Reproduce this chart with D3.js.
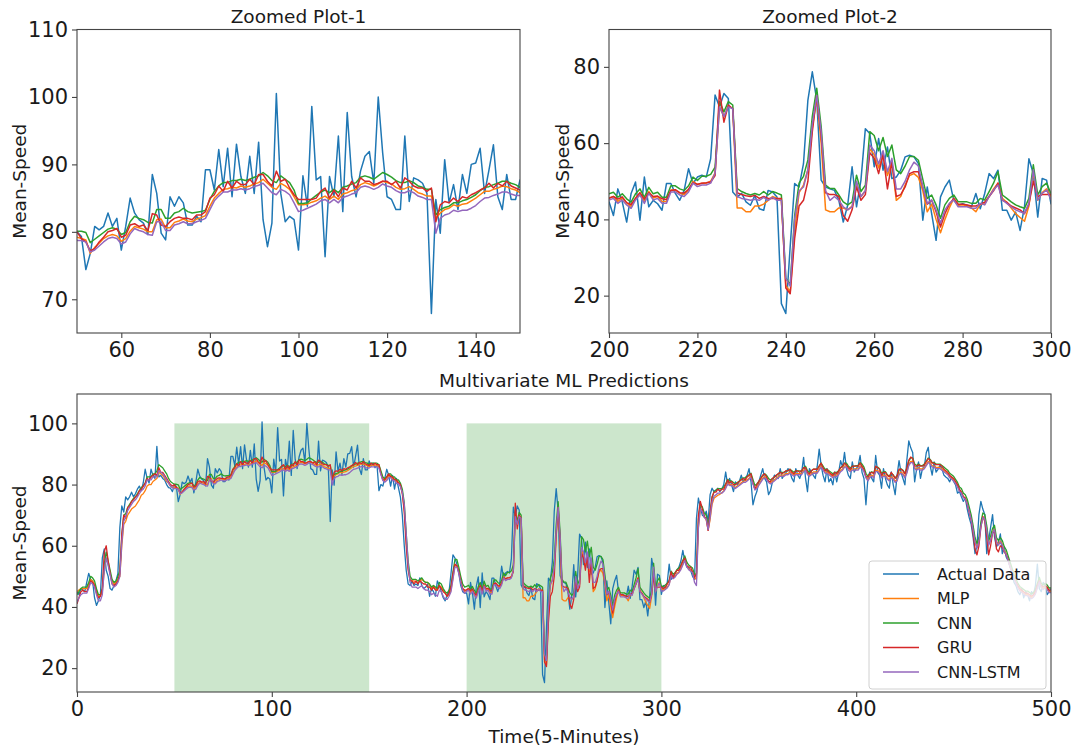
<!DOCTYPE html>
<html>
<head>
<meta charset="utf-8">
<script src="https://cdn.jsdelivr.net/npm/d3@7"></script>
<style>
  body { margin: 0; background: #fff; }
  svg text { font-family: "DejaVu Sans", sans-serif; fill: #1a1a1a; }
</style>
</head>
<body>
<svg id="chart" width="1076" height="749"></svg>
<script>
// Mean speed per 5-minute step, observed values
const actual = [
  45,44,46,45.5,45,48,51,49,48.5,43,40.5,42,44,56,59,52,50,46,45.5,47,48.5,51,66,73,71,
  76,75,76,77.5,76,77,78.5,79.5,78,80.5,85,82,80.5,85,83,82,92.5,82.5,83,82,81.5,80,79,78.8,77.7,
  80,79.3,74.4,76.8,80.8,80.3,80.8,82.8,80.8,82,77.3,80.8,85,82.8,81.8,81.3,79.6,88.5,85.7,79.8,78.8,85.2,83.8,85.2,84.3,
  81,81,82.3,81.5,89.2,89.2,86.2,92.2,86.7,92.4,85.2,93,88.2,85.7,91.2,85.7,93.3,81.8,77.8,81.3,100.5,85.7,81.5,82.3,81.8,
  77.3,88.3,83.8,98.6,87.7,88.2,76.3,88.2,85.2,94.2,83,97.7,88.2,85.2,89,91.2,91.9,87.2,100,91.7,85.2,84.8,83.3,83.3,94.2,
  84.5,88,87.7,87.2,85.7,67.9,84.8,79.8,90.7,84.3,87,83.3,88.5,85.7,90,90.2,92.4,85.7,89.2,92.9,85.2,83.3,88.5,84.8,84.8,
  87.7,86,87,85.5,86.5,78,80,79.5,82,85,83,79.5,83,78.5,82,79,76,70,60,52,47.5,47,48.5,47,47.5,
  47,49.5,47,46,46.5,47.5,43.5,46,45,43.5,48.5,47,45,43,42,44,45,51,57,56,54,51,47,45,44.5,
  44.6,41,48,44.6,39.3,46.8,49.8,39.8,51.1,43.3,45,44.1,42.4,49.4,49.4,46.8,45,47.6,53.3,49.4,51.1,51.6,51.1,55.9,72.6,
  69.5,73,71.7,47.2,45.9,46.8,44.6,43.7,46.3,42.8,42.4,47.6,47.2,45.9,17.9,15.3,33,49.4,48.5,54.6,71.3,78.7,71.3,50.3,48.5,
  48,47.6,45,39.3,43.7,53.8,43.3,50.3,63.8,62.5,53.8,61.2,52.9,59,50.7,51.1,52.9,56.4,56.8,56.4,54.6,39.8,48.5,41.5,34.5,
  45.9,48.5,50.3,45,43.7,44.1,43.7,43.3,46.8,42.8,46.8,52,50.7,52.9,42.4,42.4,39.8,41.9,37.1,43.3,55.9,52,40.6,50.7,50.3,
  44.1,47,46,48,54,49,50,51,52,53,55,58.5,55,53,53,52,50,49,69,75.6,72.4,70,69.5,71.3,68.1,
  76.7,78.8,77.7,78,78.8,77.7,78.5,79.9,84.1,79.9,82,80,77.7,80.9,79.9,81,83.1,80.9,82,83,85.2,80.9,73.4,76,77.7,
  80.9,83.1,85.2,82,80.9,76.7,78,80.9,83.1,82.5,82,85.2,82,83.1,84,85.2,84.1,82,80.9,85.2,83.1,82,84,88.9,82,
  77.7,85.2,84.1,83,82,86,91.6,86.3,83,80.9,85.2,80.9,82,79.9,84.1,80.9,84,87.8,85.7,90.5,85.2,83,82,87.4,84.1,
  85.2,86,89.5,84,82,73.4,82,84.1,82,80.9,89.5,84,83.1,78.8,85.2,82,79.9,78.8,84.1,80,76.7,83.1,87.8,84,82,
  79.9,88,94.3,92,90.5,80.9,85,87.4,82,85.2,86,90.5,92.2,86,83.1,87.4,84.1,85,86.3,85.2,83.1,82.5,82,80.9,82.5,
  81,79.9,77.2,77.7,76,74.5,75.6,72,69.2,67,62.8,57.4,60,70.2,74.5,72,70.2,57.4,61.8,66,70.2,62.8,59.6,61,63.9,
  57.4,59.6,56.3,55,53,51,48,47,45,44,46,43,45,44,42,45,44,47,54,46,45,48,47,44,45,
  46
];

// Predicted mean speed, MLP model
const mlp = [
  45,45.5,46,46,46,46,47.5,49,48.5,47.5,45.5,43.5,43.5,45,52,56,54,51,48.5,47.5,48,49,50,60,67,
  68,70,71,72,72.5,73,74,75,76.5,77,78,79.5,80,80,81,81.5,82,84,83.5,83,82,81,80.5,79.5,79,
  79.2,79,78.8,76.8,77.7,78.3,79,79.4,79.6,79.4,78.6,79,80.1,80.8,80.6,80.4,80,80,81.8,81.9,80.6,80.6,81.4,81.6,81.9,
  81.6,81.5,81.9,82.1,82.4,83.8,85,85.7,86.3,86.4,86.6,86.5,86.8,86.6,86.8,87.1,87.3,87.8,87.2,86.6,86.3,87.2,86.8,86.3,85.2,
  84,84,84.1,84.4,84.6,85,85.3,84.8,85.3,84.8,85.6,85.8,86.1,86.3,87,87.3,87.1,86.8,87.1,87.5,87.3,87.1,86.6,86.3,86.4,
  86.7,86.3,85.8,85.6,85.3,85.3,82,82.8,83.3,83.5,84,83.8,84.1,84.2,84.6,85,85.5,86,86,86.3,86.5,86.8,86.7,86.4,86.2,
  85.8,86.3,86.4,86.4,86.2,85.8,84,82.2,81.4,81.8,82.8,82.9,82,81.8,81,80.8,79.8,77.5,72,62,53,49,48.5,48.5,48.2,
  48,48.5,49,48.5,48,48,47,46,47,46,45.5,47,46.5,45.5,44.5,43.5,44,45.5,49.5,53.5,53.5,52,48.5,46,45,
  45.6,46,44.7,45.6,44.3,43.4,45.6,46.9,44.7,47.3,45.6,46,44.7,44.7,47.7,47.7,46.9,46.5,47.7,50,49.1,49.5,49.5,50,52.2,
  69.5,67,69.8,69,43,43,42,42,43.5,43.5,44,45,46,45.5,45,22.7,21,37,47,49,53,64,72,60,42.5,
  42,42,43,43,42.5,43.5,49,46,47.5,58.5,57,53.5,57,51.5,55,45,46,49,51.5,52,51,47.5,42,44,40,
  36.5,40,43,45.5,43.8,43.8,43.5,43,42,44,44,46,48,49.5,45.5,44.5,43,41.5,40.5,39.5,43.5,52.5,45,47,48,
  46,45.5,46,46.5,47.5,50.5,49.5,50,51,51.5,52.5,54,55.5,53.5,52.5,52,51.5,49.5,49,66,72,71.5,69.5,68.5,65,
  68.5,73.5,75.5,76,76.5,76.8,77.3,78,79,80.5,80,80,79.5,79,79.6,80.1,80.6,81.1,81.2,81.6,82.1,82.6,80.5,78.6,79.1,
  80.1,81.1,82.1,82.6,82.1,81.1,80.6,81.1,81.6,82.1,82.6,83.1,83.1,83.1,83.6,83.6,84.1,83.6,83.1,83.6,83.6,83.6,83.6,84.6,85.1,
  83.6,83.1,83.6,84.1,84.1,84.1,85.1,86.1,85.1,84.1,84.1,83.6,83.1,82.6,83.1,83.1,83.6,84.6,85.1,86.1,86.1,85.1,84.6,85.1,85.1,
  85.1,85.1,86.1,85.6,84.6,82.6,81.6,82.6,83.1,82.6,84.6,84.6,84.1,82.6,83.1,83.1,82.1,81.6,82.6,82.1,81.1,81.6,83.6,84.1,83.6,
  82.6,84.1,86.6,87.6,87.6,85.6,85.1,85.6,85.1,85.1,85.6,86.6,87.6,87.1,86.1,86.1,85.6,85.6,85.6,85.1,84.6,84.1,83.6,82.6,82.1,
  81.6,80.6,79.6,78.1,77.6,76.1,75.6,74.1,71.6,69,65.5,61.5,59.5,61.5,66.5,69.5,69,65.5,60.5,62,64.5,65.5,61.5,60.5,61.5,
  60.5,58.5,57.5,55.5,53.5,51.5,49.5,48,46.5,45.5,45,44.5,44,44,43.5,43,43.5,44.5,46.5,48.5,46.5,46,46.5,46,45,
  45
];

// Predicted mean speed, CNN model
const cnn = [
  44,45,46,46.5,46.5,46.5,48,50,49.5,48.5,46,44,44,46,54,58,55,52,49,48,48.5,50,52,63,70,
  70.5,72.5,73.5,74.5,75.5,76,77,78,79,79.5,80.5,82.5,82.5,82.5,83.5,83.5,84.5,86.5,86,85.5,84.5,83.5,82,81,80.5,
  80.1,80.1,79.9,78.4,78.9,79.4,79.9,80.4,80.6,80.4,79.6,79.9,81.5,82.3,82,81.8,81.4,81.3,83.3,83.3,82,82,82.8,83,83.5,
  83,82.8,82.9,83,83.2,84.8,86,86.8,87.3,87.3,87.6,87.6,87.8,87.6,87.8,88.1,88.3,88.8,88.3,87.6,87.3,88.3,87.8,87.3,86.2,
  84.2,84.2,84.3,84.9,85.4,85.9,86.2,85.8,86.3,85.8,86.6,86.8,87.1,87.3,88.1,88.3,88.1,87.8,88.3,88.8,88.5,88.1,87.6,87.3,87.3,
  87.6,87.3,86.8,86.6,86.3,86.3,82.5,83.3,83.6,83.8,84.3,84.3,84.6,84.8,85.1,85.5,86.1,86.6,86.7,87,87.2,87.5,87.5,87.2,87,
  86.6,87,87,87,87,86.5,84.5,82.5,82,82.5,83.5,83.5,82.5,82.5,81.5,81.5,80.5,78.5,74,64,55,50,49,49,49,
  48.5,49,49.5,48.5,48,48,47.5,46.5,47,46.5,46,48,47.5,46,45,44.5,45.5,47,51.5,55.5,55.5,53,50,47.5,46.5,
  46.7,47.1,45.8,46.7,45.4,44.5,46.7,48,45.8,48.4,46.7,47.1,45.8,45.8,48.8,48.8,48,47.6,48.8,51.1,50.2,51.3,51.3,51.8,53.7,
  70.9,68.2,70.9,70,48.1,47.3,46.8,46.4,46.8,46.4,47.3,46.4,47.3,46.9,46.4,24.6,22.9,41,49.5,51.3,55.6,67,74.4,64.4,49,
  48.1,48.1,46.4,44.6,43.8,44.6,51.6,47.3,49,63,62,58,61.5,56.5,59.5,53,52,54,56.5,56.5,55.5,50.5,45.5,46.4,43.8,
  40.3,43.8,45.5,46.4,44.6,44.6,44.6,44.2,44.2,45.5,45.1,47.3,49.5,52.5,46.4,45.5,44.6,43.8,43.3,42.9,45.5,54.3,46.4,48.6,49.5,
  46.7,46.7,47.2,47.7,48.7,51.7,50.7,51.2,52.2,52.7,53.7,55.2,56.7,54.7,53.7,53.2,52.7,50.7,50.7,68.7,73.7,72.7,70.7,70.2,66.7,
  70.7,75.7,77.7,78.2,78.7,78.7,78.7,79.2,80.2,81.7,81.2,81.2,80.7,80.2,80.7,81.2,81.7,82.2,82.2,82.7,83.2,83.7,81.7,79.7,80.2,
  81,82,83,83.5,83,82,81.5,82,82.5,83,83.5,84,84,84,84.5,84.5,85,84.5,84,84.5,84.5,84.5,84.5,85.5,86,
  84.5,84,84.5,85,85,85,86,87,86,85,85,84.5,84,83.5,84,84,84.5,85.5,86,87,87,86,85.5,86,86,
  86.2,86.2,87.2,86.7,85.7,83.7,82.7,83.7,84.2,83.7,85.7,85.7,85.2,83.7,84.2,84.2,83.2,82.7,83.7,83.2,82.2,82.7,84.7,85.2,84.7,
  83.7,85.2,87.7,88.7,88.7,86.7,86.2,86.7,86.2,86.2,86.7,87.7,88.7,88.2,87.2,87.2,86.7,86.7,86.7,86.2,85.7,85.2,84.7,83.7,83.2,
  82.7,81.7,80.7,79.2,78.7,77.2,76.7,75.2,72.7,70.2,66.7,62.7,60.7,62.7,67.7,70.7,70.2,66.7,61.7,63.2,65.7,66.7,62.7,61.7,62.7,
  61.7,59.7,58.7,56.7,54.7,52.7,50.7,49.2,47.7,46.7,46.2,45.7,45.2,45.2,44.7,44.2,44.7,45.7,47.7,49.7,47.7,47.2,47.7,47.2,46.2,
  46.2
];

// Predicted mean speed, GRU model
const gru = [
  41,43,45,45.5,45,45,46.5,48.5,48,47,44.5,43,43.5,46,58,60,55,51,47.5,47,47.5,48.5,51,64,70,
  69,72.5,73,74.5,75,76,76.5,78,78.5,79.5,80.5,82,81.5,82.5,83,83.5,83,85.5,84,84,83,82,81,80,79.5,
  80,79,78.5,77.2,77.5,78.5,79.2,80,80.2,80.5,79.2,79.5,81,81.2,80.8,81,80.2,82.7,82.5,81,80.8,81.5,82,82.2,82,
  82,81.8,82.5,82.5,83,85,85.5,86.8,86,87.5,86.5,87.5,87,87,87.8,87,88.5,88.5,87.5,86.8,89,87.5,87.8,86.5,85.5,
  84.8,84.8,84.8,84.8,85,86,86.5,85,86.2,85.2,86.5,86.2,87.5,86.5,88,87.5,87.5,87,87.2,87.5,87.5,87,87.5,86.5,88,
  87.5,86.8,86.5,86.5,86,86.5,81.5,84,84.5,84.3,85,84.5,85.2,85,85.5,85.8,86.2,86.5,87.2,86.5,87.2,86.8,87.5,86.8,86.5,
  86.2,87,86.5,87,86.5,86.5,83.5,81.5,81.5,82.5,83.5,82.5,82.5,81.5,81.5,80.5,80,77,71,60,52,48.5,48.5,47.5,48.5,
  47.5,48.5,48,47.5,47.5,46.5,46.5,45.5,46.5,45.5,45.5,47,46,45,44.5,43.5,44.5,46.5,51,54,53.5,51.5,48.5,46,45.5,
  45.5,46,45.3,45.9,44.4,43.9,45.5,47,45.3,47,46,46.1,45.4,45.2,47.6,47.8,47,46.9,47.9,49.6,49.2,49.5,49.6,49.8,51.5,
  73.9,65.5,70,69,47,46.5,46.2,46,46.3,45.5,46,45.5,45.5,45.5,45.5,22,20.5,35,43.5,45,50,63,72.5,62,47,
  46.5,46.5,46,41,39.5,42.5,48.5,45,46.5,57.5,56,52,57,48,55,46,46.5,48.5,52,52.5,52.5,48.5,44,45,42,
  38,41.5,44,45.5,44,44,43.8,43.5,43.5,44,44.5,46,47.5,49.5,45,44.5,43.5,43,42.5,41.5,44,50,46,46.5,46.5,
  46.5,46,46.5,47.5,48.5,51.5,49.5,51,52,52,53.5,55,56,53.5,53,53,51.5,49.5,51,70,74.5,72,69.5,69,65,
  71,76,77.5,77.5,78.5,78,78.5,78.5,80,81.5,80.5,81,80,80,80.5,81,81.5,82,81.5,82.5,83,83.5,80.5,78.5,80,
  81,82,83,83.5,82.5,81,81,82,82.5,83,83.5,84,83.5,84,84.5,84.5,85,84,83.5,84.5,84.5,84,84.5,85.5,85.5,
  84,83.5,84.5,85,85,85,86,87,85.5,84.5,85,84,83.5,83,84,83.5,84.5,85.5,86,87,86.5,85.5,85,86,86,
  86,86,87,86,85,82.5,82.5,83.5,84,83.5,86,85.5,85,83,84,84,83,82.5,84,83,82,83,85,85,84.5,
  83.5,85.5,88,89,88.5,86,86,86.5,86,86,86.5,87.5,88.5,88,87,87,86.5,86.5,86.5,86,85,84.5,84,83,82.5,
  82,81,80,78.5,77.5,76,75.5,73.5,71,68.5,64,59,57,60,66,69.5,68,63,57,60,64,65,59,58,60,
  59.5,58,57,55.5,53,51.5,49.5,48,47,46,45.5,45,44.5,44.5,44,43.5,44,45,47,48.5,47,46.5,47,46.5,45.5,
  45.5
];

// Predicted mean speed, CNN-LSTM model
const cnnLstm = [
  41.5,43,44,44.5,44.5,44.5,46,48,47.5,46.5,44,42,42,44,52,56,53.5,50.5,47.5,46.5,47,48,50,61,68,
  69.5,71.5,72.5,73.5,74.5,75,76,77,78,78.5,79.5,81.5,81.5,81.5,82.5,82.5,82.5,84.5,84,83.5,82.5,81.5,80.5,79.5,79,
  78.7,78.7,78.5,77,77.3,77.9,78.5,79,79.2,79,78.2,78.5,79.7,80.5,80.2,80,79.6,79.5,81.5,81.5,80.2,80.2,81,81.2,81.5,
  81.2,81.2,81.5,81.7,82,83.3,84.6,85.3,85.9,85.9,86.2,86.2,86.4,86.2,86.4,86.7,86.9,87.2,86.5,85.8,85.5,86.3,86,85.5,84.3,
  83,83.2,83.5,83.8,84.1,84.6,84.8,84.3,84.8,84.3,85.1,85.3,85.6,85.8,86.6,86.8,86.6,86.3,86.6,87.1,86.8,86.6,86.1,85.8,85.8,
  86.1,85.8,85.3,85.1,84.8,84.8,79.8,82,82.5,82.7,83.2,83,83.2,83.2,83.5,83.9,84.5,85,85.1,85.4,85.6,85.9,85.9,85.6,85.4,
  85.4,85.8,85.8,85.8,85.8,85.3,83.3,81.3,80.8,81.3,82.3,82.3,81.3,81.3,80.3,80.3,79.3,77.5,73.5,64,54,48,46.5,46.5,46.5,
  46,46.5,47,46,45.5,45.5,45,44,44.5,44,43.5,45.5,45,43.5,42.5,42.5,43.5,45,49,53,53,51,48,45.5,44.5,
  45.1,45.5,44.2,45.1,43.8,42.9,45.1,46.4,44.2,46.8,45.1,45.5,44.2,44.2,47.2,47.2,46.4,46,47.2,49.5,48.6,49,49,49.5,52.1,
  69.5,67,69.5,69,46,45.5,45.3,45,45.3,45,45.8,45,45.8,45,45,24.5,22.5,40,47.5,48.5,53,65,72.5,63,47.5,
  45,46,45,43.3,42.5,43.3,50,46,47.5,59.5,58,54.5,58,52.5,56,48,48,50,53,55,54,48.5,44.2,45.1,42.5,
  39,42.5,44.2,45.1,43.3,43.3,43.3,42.9,42.9,44.2,43.8,46,47.7,49,45.1,44.2,43.3,42.5,42,41.6,44.2,53,45.1,46.8,47.7,
  45.2,45.2,45.7,46.2,47.2,50.2,49.2,49.7,50.7,51.2,52.2,53.7,55.2,53.2,52.2,51.7,51.2,48,47,66,72,71.2,69.2,68.7,65.2,
  69.2,74.2,76.2,76.7,77.2,77.2,77.2,77.7,78.7,80.2,79.7,79.7,79.2,78.7,79.2,79.7,80.2,80.7,80.7,81.2,81.7,82.2,80.2,78.2,78.7,
  79.7,80.7,81.7,82.2,81.7,80.7,80.2,80.7,81.2,81.7,82.2,82.7,82.7,82.7,83.2,83.2,83.7,83.2,82.7,83.2,83.2,83.2,83.2,84.2,84.7,
  83.2,82.7,83.2,83.7,83.7,83.7,84.7,85.7,84.7,83.7,83.7,83.2,82.7,82.2,82.7,82.7,83.2,84.2,84.7,85.7,85.7,84.7,84.2,84.7,84.7,
  84.7,84.7,85.7,85.2,84.2,82.2,81.2,82.2,82.7,82.2,84.2,84.2,83.7,82.2,82.7,82.7,81.7,81.2,82.2,81.7,80.7,81.2,83.2,83.7,83.2,
  82.2,83.7,86.2,87.2,87.2,85.2,84.7,85.2,84.7,84.7,85.2,86.2,87.2,86.7,85.7,85.7,85.2,85.2,85.2,84.7,84.2,83.7,83.2,82.2,81.7,
  81.2,80.2,79.2,77.7,77.2,75.7,75.2,73.7,71.2,68.7,65.2,61.2,59.2,61.2,66.2,69.2,68.7,65.2,60.2,61.7,64.2,65.2,61.2,60.2,61.2,
  60.2,58.2,57.2,55.2,53.2,51.2,49.2,47.7,46.2,45.2,44.7,44.2,43.7,43.7,43.2,42.7,43.2,44.2,46.2,48.2,46.2,45.7,46.2,45.7,44.7,
  44.7
];

const seriesNames = ["Actual Data", "MLP", "CNN", "GRU", "CNN-LSTM"];
const seriesValues = [actual, mlp, cnn, gru, cnnLstm];
const seriesColors = ["#1f77b4", "#ff7f0e", "#2ca02c", "#d62728", "#9467bd"];

// Windows that the two upper panels enlarge
const zoomWindows = [[50, 150], [200, 300]];
const shadeTop = 100;

const ticksZoom1X = [60, 80, 100, 120, 140];
const ticksZoom1Y = [70, 80, 90, 100, 110];
const ticksZoom2X = [200, 220, 240, 260, 280, 300];
const ticksZoom2Y = [20, 40, 60, 80];
const ticksMainX = [0, 100, 200, 300, 400, 500];
const ticksMainY = [20, 40, 60, 80, 100];

const svg = d3.select("#chart");

const panels = [
  { id: "z1", left: 77, right: 520, top: 29.5, bottom: 333, xDomain: zoomWindows[0], yDomain: [65, 110],
    xTicks: ticksZoom1X, yTicks: ticksZoom1Y, title: "Zoomed Plot-1", yLabelX: 20 },
  { id: "z2", left: 609, right: 1051, top: 29.5, bottom: 333, xDomain: zoomWindows[1], yDomain: [10.2, 89.8],
    xTicks: ticksZoom2X, yTicks: ticksZoom2Y, title: "Zoomed Plot-2", yLabelX: 563 },
  { id: "main", left: 77, right: 1051, top: 394, bottom: 692, xDomain: [0, 500], yDomain: [12.2, 109.6],
    xTicks: ticksMainX, yTicks: ticksMainY, title: "Multivariate ML Predictions", yLabelX: 20,
    xLabel: "Time(5-Minutes)", shade: true, legend: true }
];

panels.forEach(p => {
  const x = d3.scaleLinear().domain(p.xDomain).range([p.left, p.right]);
  const y = d3.scaleLinear().domain(p.yDomain).range([p.bottom, p.top]);
  const g = svg.append("g");

  g.append("clipPath").attr("id", "clip-" + p.id)
    .append("rect")
    .attr("x", p.left).attr("y", p.top)
    .attr("width", p.right - p.left).attr("height", p.bottom - p.top);

  const plot = g.append("g").attr("clip-path", `url(#clip-${p.id})`);

  if (p.shade) {
    plot.selectAll("rect.shade").data(zoomWindows).join("rect")
      .attr("class", "shade")
      .attr("x", d => x(d[0]))
      .attr("width", d => x(d[1]) - x(d[0]))
      .attr("y", y(shadeTop))
      .attr("height", p.bottom - y(shadeTop))
      .attr("fill", "green")
      .attr("fill-opacity", 0.2);
  }

  const line = d3.line().x(d => x(d[0])).y(d => y(d[1]));
  seriesValues.forEach((vals, k) => {
    const pts = vals.map((v, i) => [i, v]).filter(d => d[0] >= p.xDomain[0] - 1 && d[0] <= p.xDomain[1] + 1);
    plot.append("path")
      .datum(pts)
      .attr("d", line)
      .attr("fill", "none")
      .attr("stroke", seriesColors[k])
      .attr("stroke-width", p.id === "main" ? 1.3 : 1.5)
      .attr("stroke-linejoin", "round");
  });

  // frame
  g.append("rect")
    .attr("x", p.left).attr("y", p.top)
    .attr("width", p.right - p.left).attr("height", p.bottom - p.top)
    .attr("fill", "none").attr("stroke", "#444").attr("stroke-width", 1.1);

  const xAxis = g.append("g")
    .attr("transform", `translate(0,${p.bottom})`)
    .call(d3.axisBottom(x).tickValues(p.xTicks).tickFormat(d3.format("d")).tickSize(5).tickPadding(4).tickSizeOuter(0));
  const yAxis = g.append("g")
    .attr("transform", `translate(${p.left},0)`)
    .call(d3.axisLeft(y).tickValues(p.yTicks).tickFormat(d3.format("d")).tickSize(5).tickPadding(4).tickSizeOuter(0));
  [xAxis, yAxis].forEach(a => {
    a.select(".domain").remove();
    a.selectAll(".tick line").attr("stroke", "#444").attr("stroke-width", 1.1);
    a.selectAll(".tick text").attr("font-size", 21).attr("fill", "#1a1a1a")
      .attr("font-family", "DejaVu Sans, sans-serif");
  });

  g.append("text")
    .attr("x", (p.left + p.right) / 2).attr("y", p.top - 7)
    .attr("text-anchor", "middle").attr("font-size", 18.5)
    .text(p.title);

  g.append("text")
    .attr("transform", `translate(${p.yLabelX},${(p.top + p.bottom) / 2}) rotate(-90)`)
    .attr("text-anchor", "middle").attr("dy", "0.35em").attr("font-size", 18.5)
    .text("Mean-Speed");

  if (p.xLabel) {
    g.append("text")
      .attr("x", (p.left + p.right) / 2).attr("y", 743)
      .attr("text-anchor", "middle").attr("font-size", 18.5)
      .text(p.xLabel);
  }

  if (p.legend) {
    const lg = g.append("g").attr("transform", "translate(869,561)");
    lg.append("rect")
      .attr("width", 177).attr("height", 128).attr("rx", 3)
      .attr("fill", "#fff").attr("fill-opacity", 0.8)
      .attr("stroke", "#d0d0d0").attr("stroke-width", 1);
    const rows = lg.selectAll("g.item").data(seriesNames).join("g")
      .attr("class", "item")
      .attr("transform", (d, i) => `translate(0,${13 + i * 24.5})`);
    rows.append("line")
      .attr("x1", 14).attr("x2", 50)
      .attr("stroke", (d, i) => seriesColors[i]).attr("stroke-width", 1.5);
    rows.append("text")
      .attr("x", 68).attr("dy", "0.35em").attr("font-size", 16)
      .text(d => d);
  }
});
</script>
</body>
</html>
